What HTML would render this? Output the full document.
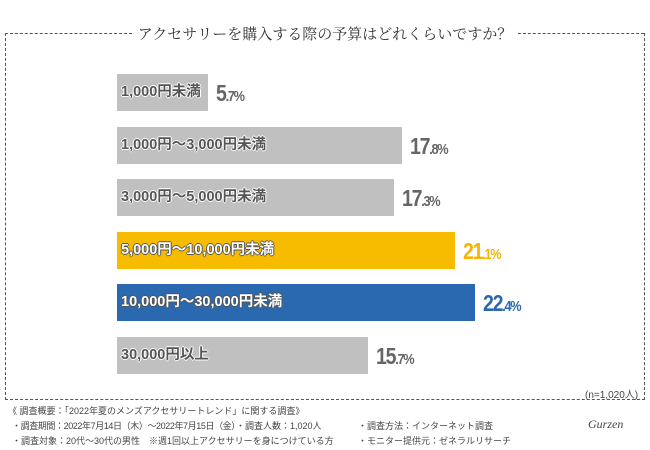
<!DOCTYPE html>
<html><head><meta charset="utf-8">
<style>
body{margin:0;width:650px;height:450px;background:#fff;overflow:hidden;font-family:"Liberation Sans","Noto Sans CJK JP",sans-serif;}
#c{position:relative;width:650px;height:450px;}
.box{position:absolute;left:5px;top:33px;width:638px;height:366px;border:1px dashed #555;border-top:none;}
.tl{position:absolute;top:33px;height:0;border-top:1px dashed #555;}
.title{position:absolute;left:0;width:650px;top:23px;text-align:center;font-family:"Liberation Serif","Noto Serif CJK SC",serif;font-size:15px;color:#333;}
.bar{position:absolute;left:117px;height:37px;}
.lbl{position:absolute;font-size:14.5px;font-weight:bold;line-height:37px;white-space:nowrap;}
.val{position:absolute;font-weight:bold;white-space:nowrap;line-height:37px;letter-spacing:-1.5px;transform:scaleX(0.85);transform-origin:left center;}
.val .b{font-size:23px}.val .s{font-size:15px}
.foot{position:absolute;font-size:9px;color:#444;white-space:nowrap;}
</style></head><body>
<div id="c">
<div class="box"></div>
<div class="tl" style="left:5px;width:127px"></div>
<div class="tl" style="left:518px;width:126px"></div>
<div class="title">アクセサリーを購入する際の予算はどれくらいですか？</div>
<div id="bars"></div>
<div class="foot" style="left:585px;top:386px;font-size:10px">(n=1,020人)</div>
<div class="foot" style="left:8px;top:404px">《 調査概要：「2022年夏のメンズアクセサリートレンド」に関する調査》</div>
<div class="foot" style="left:12px;top:419px;letter-spacing:-0.4px">・調査期間：2022年7月14日（木）～2022年7月15日（金）</div>
<div class="foot" style="left:236px;top:419px">・調査人数：1,020人</div>
<div class="foot" style="left:358px;top:419px">・調査方法：インターネット調査</div>
<div class="foot" style="left:12px;top:434px">・調査対象：20代～30代の男性　※週1回以上アクセサリーを身につけている方</div>
<div class="foot" style="left:358px;top:434px">・モニター提供元：ゼネラルリサーチ</div>
<div class="foot" style="left:588px;top:417px;font-style:italic;font-family:'Liberation Serif',serif;font-size:12px">Gurzen</div>
</div>
<script>
const categories=["1,000円未満","1,000円～3,000円未満","3,000円～5,000円未満","5,000円～10,000円未満","10,000円～30,000円未満","30,000円以上"];
const values=[5.7,17.8,17.3,21.1,22.4,15.7];
const colors=["#c0c0c0","#c0c0c0","#c0c0c0","#f7bc00","#2a68b0","#c0c0c0"];
const valColors=["#666","#666","#666","#f4b400","#2a68b0","#666"];
const x=v=>v*16.0;
const y=i=>74+i*52.6;
const root=document.getElementById('bars');
values.forEach((v,i)=>{
  const b=document.createElement('div');b.className='bar';
  
  
  b.style.top=y(i)+'px';b.style.width=x(v)+'px';b.style.background=colors[i];
  root.appendChild(b);
  const l=document.createElement('div');l.className='lbl';
  
  
  l.style.left='121px';l.style.top=y(i)+'px';
  const gray=colors[i]==="#c0c0c0";
  l.style.color=gray?'#555':'#fff';
  l.style.textShadow=gray?'1px 0 #fff,-1px 0 #fff,0 1px #fff,0 -1px #fff':'1px 0 #555,-1px 0 #555,0 1px #555,0 -1px #555';
  l.textContent=categories[i];root.appendChild(l);
  const t=document.createElement('div');t.className='val';
  
  
  t.style.left=(117+x(v)+8)+'px';t.style.top=(y(i)+1)+'px';t.style.color=valColors[i];
  const p=v.toFixed(1).split('.');
  t.innerHTML='<span class="b">'+p[0]+'</span><span class="s">.'+p[1]+'%</span>';
  root.appendChild(t);
});
</script>
</body></html>
